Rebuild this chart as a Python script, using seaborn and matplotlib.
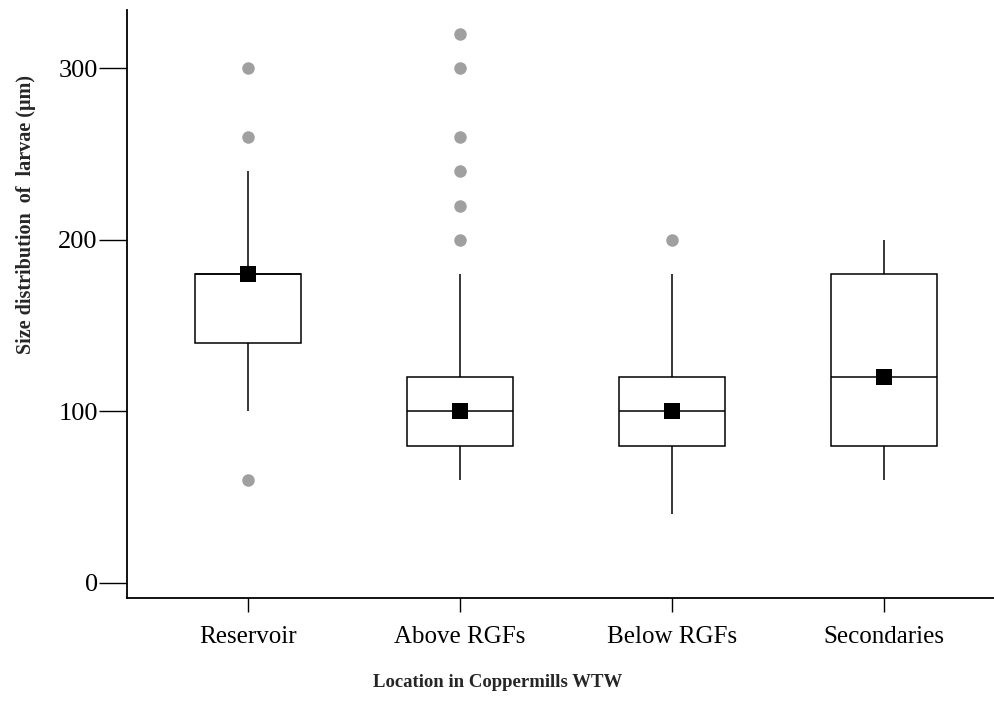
import numpy as np
import pandas as pd
import matplotlib
matplotlib.use("Agg")
import matplotlib.pyplot as plt
import seaborn as sns

locations = ["Reservoir", "Above RGFs", "Below RGFs", "Secondaries"]

# larval sizes (um) per sampling location
reservoir = [60, 100, 140, 140, 140, 160, 180, 180, 180, 180, 180, 180, 240, 260, 300]
above_rgfs = [60, 80, 80, 80, 80, 80, 80, 80, 80, 80, 80, 100, 100, 100, 100, 100, 100,
              100, 100, 120, 120, 120, 120, 120, 120, 140, 180,
              200, 220, 240, 260, 300, 320]
below_rgfs = [40, 60, 80, 80, 80, 100, 100, 100, 120, 120, 140, 180, 200]
secondaries = [60, 80, 80, 100, 120, 160, 180, 180, 200]

groups = [reservoir, above_rgfs, below_rgfs, secondaries]
df = pd.concat([pd.DataFrame({"location": loc, "size": vals})
                for loc, vals in zip(locations, groups)])

sns.set_style("ticks")
plt.rcParams["font.family"] = ["Liberation Serif", "DejaVu Serif"]

fig = plt.figure(figsize=(9.94, 7.2), dpi=100)
ax = fig.add_axes([0.1278, 0.1694, 0.8722, 0.8166])

sns.boxplot(data=df, x="location", y="size", order=locations, width=0.5,
            showcaps=False, whis=1.5, ax=ax,
            boxprops=dict(facecolor="white", edgecolor="black", linewidth=1.1),
            whiskerprops=dict(color="black", linewidth=1.1),
            medianprops=dict(color="black", linewidth=1.1),
            flierprops=dict(marker="o", markersize=9, markerfacecolor="#a0a0a0",
                            markeredgecolor="none"))

sns.pointplot(data=df, x="location", y="size", order=locations,
              estimator="median", errorbar=None, marker="s", linestyle="none",
              color="black", markersize=11, markeredgewidth=0, ax=ax)

ax.set_ylim(-8.8, 334)
ax.set_xlim(-0.571, 3.52)
ax.set_yticks([0, 100, 200, 300])
sns.despine(ax=ax)
for s in ["left", "bottom"]:
    ax.spines[s].set_linewidth(1.3)
    ax.spines[s].set_color("black")

ax.tick_params(axis="y", direction="out", length=20, width=1.0, pad=1,
               labelsize=19, colors="black")
ax.tick_params(axis="x", direction="out", length=10, width=1.0, pad=10,
               labelsize=18, colors="black")

ax.set_xlabel("Location in Coppermills WTW", fontsize=13.5, fontweight="bold")
ax.set_ylabel("Size distribution  of  larvae (\u03bcm)", fontsize=14.5,
              fontweight="bold")
ax.xaxis.set_label_coords(0.427, -0.129)
ax.yaxis.set_label_coords(-0.105, 0.653)

fig.savefig("out.png", dpi=100)
